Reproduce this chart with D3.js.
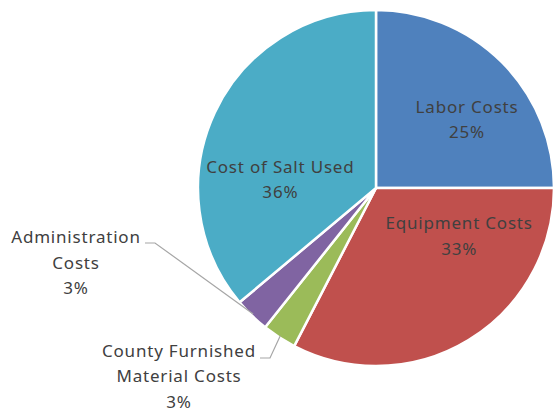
<!DOCTYPE html>
<html>
<head>
<meta charset="utf-8">
<script src="https://cdn.jsdelivr.net/npm/d3@7"></script>
<style>
  body { margin: 0; background: #fff; }
  svg text { font-family: "Noto Sans", sans-serif; fill: #404040; }
</style>
</head>
<body>
<svg id="chart"></svg>
<script>
// slices, clockwise from 12 o'clock
const categories = ["Labor Costs", "Equipment Costs", "County Furnished Material Costs", "Administration Costs", "Cost of Salt Used"];
const values = [25.0, 32.6, 3.1, 3.2, 36.1];
const pctLabels = ["25%", "33%", "3%", "3%", "36%"];
const colors = ["#4F81BD", "#C0504D", "#9BBB59", "#8064A2", "#4BACC6"];

// label text lines (category wrapped like the original, then the percent)
const labelLines = [
    ["Labor Costs"],
    ["Equipment Costs"],
    ["County Furnished", "Material Costs"],
    ["Administration", "Costs"],
    ["Cost of Salt Used"]
];

let width = 556;
let height = 413;
let cx = 376, cy = 188, r = 178;

let svg = d3.select("#chart")
    .attr("width", width)
    .attr("height", height);

let pie = d3.pie().sort(null).value(d => d);
let arcs = pie(values);

let arc = d3.arc().innerRadius(0).outerRadius(r);

let g = svg.append("g").attr("transform", `translate(${cx}, ${cy})`);

g.selectAll("path.slice")
    .data(arcs)
    .enter().append("path")
    .attr("class", "slice")
    .attr("d", arc)
    .style("fill", (d, i) => colors[i])
    .style("stroke", "#fff")
    .style("stroke-width", 2.5);

// label placement: inside labels by polar position [deg clockwise from top, distance],
// outside labels by box centre plus leader line start
let inside = [[53, 114], [120, 96], null, null, [275, 96]];
let outside = [null, null, {x: 179, y: 351, lx: 260, ly: 358, bx: 270}, {x: 76, y: 237.5, lx: 145, ly: 243, bx: 155}, null];
let lineH = 25.5;

arcs.forEach((d, i) => {
    let lines = labelLines[i].concat([pctLabels[i]]);
    let x, y;
    if (inside[i]) {
        let a = inside[i][0] * Math.PI / 180;
        x = cx + inside[i][1] * Math.sin(a);
        y = cy - inside[i][1] * Math.cos(a) - (lines.length - 1) * lineH / 2;
    } else {
        let o = outside[i];
        x = o.x; y = o.y;
        // leader line to slice edge at mid angle
        let mid = (d.startAngle + d.endAngle) / 2;
        let ex = cx + (r - 2) * Math.sin(mid);
        let ey = cy - (r - 2) * Math.cos(mid);
        svg.append("polyline")
            .attr("points", `${o.lx},${o.ly} ${o.bx},${o.ly} ${ex},${ey}`)
            .style("fill", "none")
            .style("stroke", "#A6A6A6")
            .style("stroke-width", 1.2);
    }
    let t = svg.append("text")
        .attr("text-anchor", "middle")
        .style("font-size", "17px")
        .style("letter-spacing", "0.8px");
    lines.forEach((s, k) => {
        t.append("tspan")
            .attr("x", x)
            .attr("y", y + k * lineH)
            .attr("dy", "0.35em")
            .text(s);
    });
});
</script>
</body>
</html>
